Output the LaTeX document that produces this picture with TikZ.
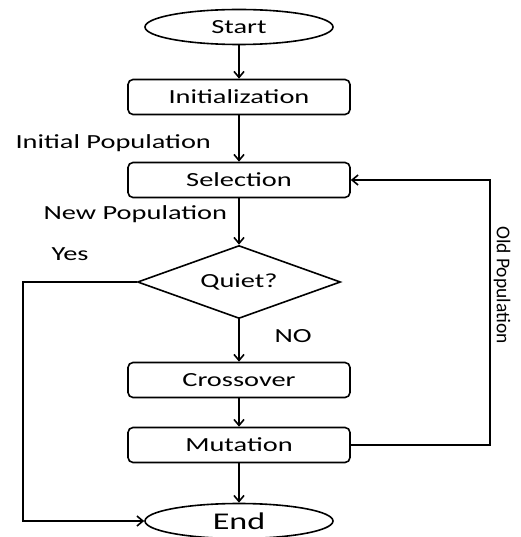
\documentclass[tikz,border=0pt]{standalone}
\usepackage{fontspec}
\setmainfont{Carlito}[FakeStretch=1.42]
\newfontfamily\plainfont{Carlito}
\usepackage{tikz}
\usetikzlibrary{arrows.meta,shapes.geometric}
\tikzset{
    >={Straight Barb[length=6pt,width=10pt]},
    flow/.style={->, line width=1.6pt},
    stepbox/.style={draw, line width=1.6pt, rounded corners=5pt,
        minimum width=222pt, minimum height=35pt, inner sep=0pt},
    terminal/.style={draw, ellipse, line width=1.6pt,
        minimum width=188pt, minimum height=35pt, inner sep=0pt},
    decision/.style={draw, diamond, line width=1.6pt,
        minimum width=203pt, minimum height=73pt, inner sep=0pt, aspect=2.8},
    lbl/.style={font=\fontsize{20}{24}\selectfont},
}

\begin{document}
\begin{tikzpicture}[x=1pt, y=-1pt, every node/.style={font=\fontsize{20}{24}\selectfont}]
            \useasboundingbox (0,0) rectangle (520,537);
            \node[terminal] (start) at (239,27) {Start};
            \node[stepbox] (init) at (239,97) {Initialization};
            \node[stepbox] (sel) at (239,180) {Selection};
            \node[decision] (quiet) at (239,282) {Quiet?};
            \node[stepbox] (cross) at (239,380) {Crossover};
            \node[stepbox] (mut) at (239,445) {Mutation};
            \node[terminal, font=\fontsize{24}{28}\selectfont] (end) at (239,521) {End};
            \coordinate (yesc) at (23,282);
            \coordinate (oldc) at (490,445);
            % main chain
            \draw[flow] (start) -- (init);
            \draw[flow] (init) -- (sel);
            \draw[flow] (sel) -- (quiet);
            \draw[flow] (quiet) -- (cross);
            \draw[flow] (cross) -- (mut);
            \draw[flow] (mut) -- (end);
            % loops
            \draw[flow] (quiet.west) -- (yesc) |- (end.west);
            \draw[flow] (mut.east) -- (oldc) |- (sel.east);
            % labels
            \node[lbl, anchor=west] (ipop) at (12,143) {Initial Population};
            \node[lbl, anchor=west] (npop) at (40,214) {New Population};
            \node[lbl, anchor=west] (yes) at (48,254) {Yes};
            \node[lbl, anchor=west] (no) at (271,336) {NO};
            \node[rotate=-90, font=\plainfont\fontsize{19.5}{23}\selectfont] (opop) at (502,285) {Old Population};
        \end{tikzpicture}
\end{document}
